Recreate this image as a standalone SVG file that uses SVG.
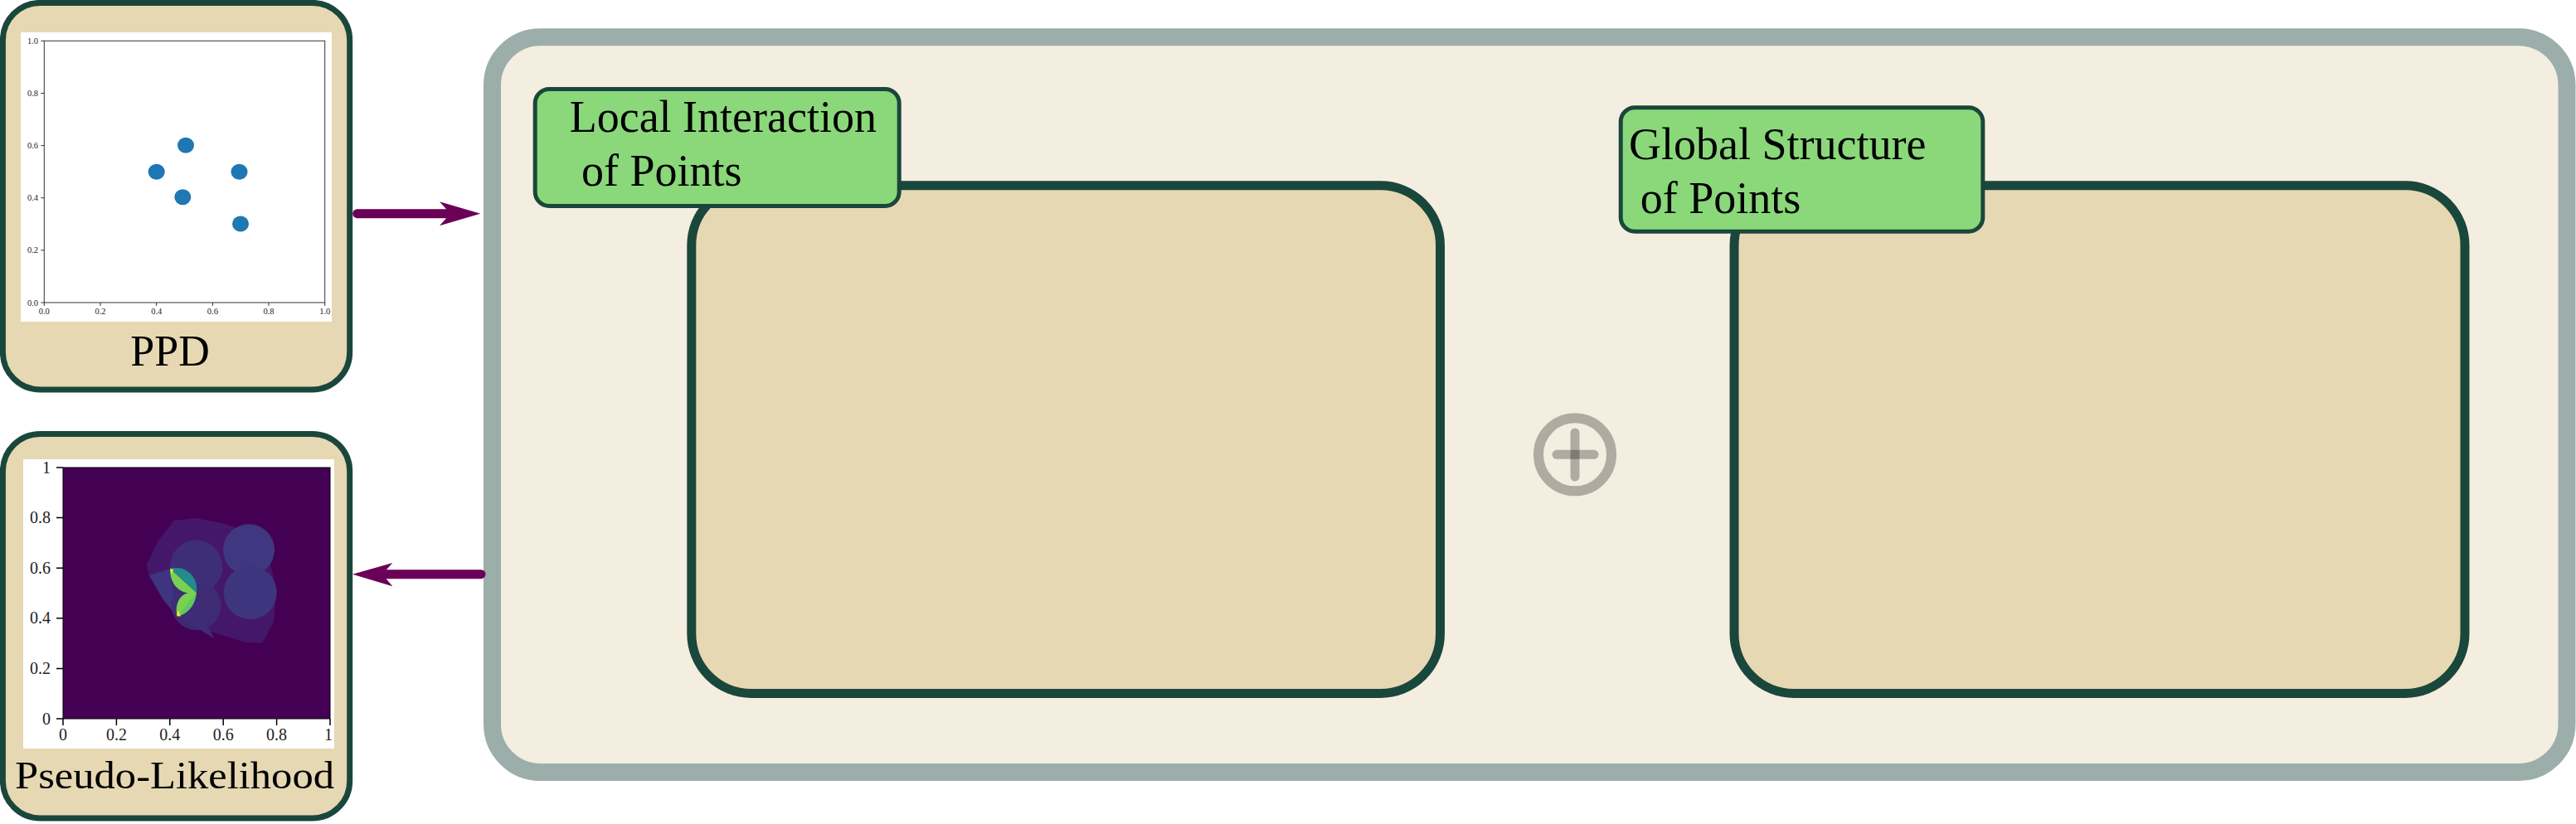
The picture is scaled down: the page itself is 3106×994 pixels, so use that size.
<svg xmlns="http://www.w3.org/2000/svg" width="3106" height="994" viewBox="0 0 3106 994">
<style>
.box{fill:#e6d8b3;stroke:#1a473c;stroke-width:7}
.inner{fill:#e6d8b3;stroke:#1a473c;stroke-width:11}
.lbl{fill:#8bd87b;stroke:#1a473c;stroke-width:5}
.t{font-family:"Liberation Serif","Times New Roman",serif;fill:#000}
.tk{font-family:"Liberation Serif","Times New Roman",serif;fill:#222}
.arrow{stroke:#6b0057;stroke-width:11;stroke-linecap:round;fill:none}
.ah{fill:#6b0057}
</style>
<rect width="3106" height="994" fill="#ffffff"/>

<g id="container">
<rect x="593.5" y="44.7" width="2501.5" height="886.8" rx="58" fill="#f4eee0" stroke="#9caeaa" stroke-width="21"/>
</g>

<g id="ppd">
<rect class="box" x="3.4" y="3.4" width="418.3" height="466.6" rx="45"/>
<rect x="25" y="39" width="375" height="349" fill="#ffffff"/>
<rect x="53.3" y="49.3" width="338.4" height="315.7" fill="none" stroke="#333" stroke-width="1"/>
<g stroke="#333" stroke-width="1">
<path d="M53.3 365v4M121 365v4M188.7 365v4M256.4 365v4M324 365v4M391.7 365v4"/>
<path d="M53.3 365h-4M53.3 301.9h-4M53.3 238.7h-4M53.3 175.6h-4M53.3 112.5h-4M53.3 49.3h-4"/>
</g>
<g class="tk" font-size="10.5" text-anchor="middle">
<text x="53.3" y="379">0.0</text><text x="121" y="379">0.2</text><text x="188.7" y="379">0.4</text><text x="256.4" y="379">0.6</text><text x="324" y="379">0.8</text><text x="391.7" y="379">1.0</text>
</g>
<g class="tk" font-size="10.5" text-anchor="end">
<text x="46" y="368.5">0.0</text><text x="46" y="305.4">0.2</text><text x="46" y="242.2">0.4</text><text x="46" y="179.1">0.6</text><text x="46" y="116">0.8</text><text x="46" y="52.8">1.0</text>
</g>
<g fill="#1f77b4">
<ellipse cx="188.7" cy="207.2" rx="10" ry="9.5"/>
<ellipse cx="224" cy="175.3" rx="10" ry="9.5"/>
<ellipse cx="288.5" cy="207.2" rx="10" ry="9.5"/>
<ellipse cx="220.3" cy="237.7" rx="10" ry="9.5"/>
<ellipse cx="290" cy="270" rx="10" ry="9.5"/>
</g>
<text class="t" x="205" y="440.7" font-size="52" text-anchor="middle">PPD</text>
</g>

<g id="pseudo-likelihood">
<rect class="box" x="3.4" y="523.4" width="418.3" height="463.6" rx="45"/>
<rect x="28" y="554" width="375" height="349" fill="#ffffff"/>
<rect x="76" y="564" width="322" height="303" fill="#440154"/>
<path d="M176.7 681.7 L190 653 L210 628 L236.7 625 L270 631.7 L300 641.7 L316.7 660 L325 676.7 L333.3 710 L330 750 L316.7 775 L296.7 775 L270 766.7 L236.7 756.7 L213.3 743.3 L196.7 723.3 L180 695 Z" fill="#45176a"/>
<path d="M180 694 L205 686 L213.3 743.3 L196.7 723.3 Z" fill="#3e347f"/>
<path d="M205 686 Q236 700 236.7 715 L236.7 745 Q250 752 258 770 L236.7 756.7 L213.3 743.3 Z" fill="#3d2d78"/>
<circle cx="236.7" cy="683.3" r="31.7" fill="#3e2e77"/>
<circle cx="236.7" cy="730" r="30" fill="#3e2c76" opacity="0.9"/>
<circle cx="300" cy="663.3" r="31" fill="#3f3880"/>
<circle cx="301.7" cy="715" r="32" fill="#3e357f"/>
<path d="M205 686 A25 25 0 0 1 236.7 715 Z" fill="#238a8d"/>
<path d="M205 686 L236.7 715 C222 718 205 710 205 686 Z" fill="#7ad151"/>
<path d="M236.7 715 C220 712 210 725 213.3 743.3 C225 742 236 730 236.7 715 Z" fill="#7ad151"/>
<path d="M236.7 715 L216 741 C226 740 235 730 236.7 715 Z" fill="#5ec962"/>
<path d="M205 686 L209 687 L207 693 Z" fill="#fde725"/>
<path d="M213.3 743.3 L214.5 736 L218 743.5 Z" fill="#fde725"/>
<rect x="76" y="564" width="322" height="303" fill="none" stroke="#000" stroke-width="1"/>
<g stroke="#000" stroke-width="1.5">
<path d="M76 867v8M140.4 867v8M204.8 867v8M269.2 867v8M333.6 867v8M398 867v8"/>
<path d="M76 867h-8M76 806.4h-8M76 745.8h-8M76 685.2h-8M76 624.6h-8M76 564h-8"/>
</g>
<g class="tk" font-size="20" text-anchor="middle" fill="#000">
<text x="76" y="893.3">0</text><text x="140.4" y="893.3">0.2</text><text x="204.8" y="893.3">0.4</text><text x="269.2" y="893.3">0.6</text><text x="333.6" y="893.3">0.8</text><text x="396" y="893.3">1</text>
</g>
<g class="tk" font-size="20" text-anchor="end" fill="#000">
<text x="61" y="873.5">0</text><text x="61" y="812.9">0.2</text><text x="61" y="752.3">0.4</text><text x="61" y="691.7">0.6</text><text x="61" y="631.1">0.8</text><text x="61" y="570.5">1</text>
</g>
<text class="t" x="18" y="950.7" font-size="46" textLength="385" lengthAdjust="spacingAndGlyphs">Pseudo-Likelihood</text>
</g>

<g id="local-interaction">
<rect class="inner" x="833.8" y="223.8" width="902.7" height="612.7" rx="72"/>
<rect class="lbl" x="645.2" y="107.5" width="439" height="141" rx="17"/>
<text class="t" x="686.7" y="159.3" font-size="54">Local Interaction</text>
<text class="t" x="701" y="224.3" font-size="54">of Points</text>
</g>

<g id="global-structure">
<rect class="inner" x="2091" y="223.8" width="881" height="612.7" rx="72"/>
<rect class="lbl" x="1954.2" y="129.8" width="436.6" height="149.4" rx="17"/>
<text class="t" x="1964" y="191.7" font-size="54">Global Structure</text>
<text class="t" x="1977.7" y="256.7" font-size="54">of Points</text>
</g>

<g id="oplus" stroke="#000" stroke-opacity="0.28" fill="none" stroke-width="11" stroke-linecap="round">
<circle cx="1899" cy="548.3" r="44" stroke-width="12"/>
<path d="M1877 548.3 H1922"/>
<path d="M1899 522 V575"/>
</g>

<g id="connectors">
<path class="arrow" d="M430.7 257.7 H545"/>
<path class="ah" d="M579.3 257.7 L530 243.3 L543 257.7 L530 272.3 Z"/>
<path class="arrow" d="M580 692.7 H460"/>
<path class="ah" d="M425 692.7 L473.3 679 L461 692.7 L473.3 707.3 Z"/>
</g>
</svg>
